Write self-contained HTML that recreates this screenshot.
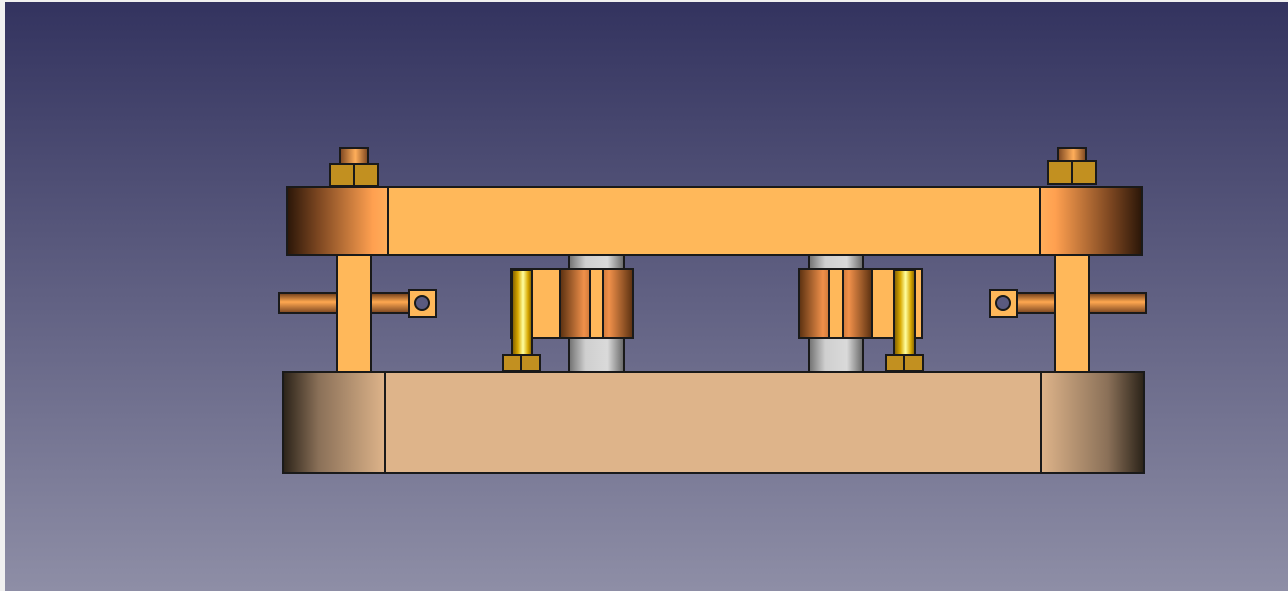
<!DOCTYPE html>
<html><head><meta charset="utf-8"><style>
html,body{margin:0;padding:0;width:1288px;height:591px;overflow:hidden;background:#f0f0f0}
svg{display:block}
</style></head><body>
<svg width="1288" height="591" viewBox="0 0 1288 591">
<defs>
<linearGradient id="bg" x1="0" y1="0" x2="0" y2="1"><stop offset="0" stop-color="#33335f"/><stop offset="1" stop-color="#8e8ea6"/></linearGradient>
<linearGradient id="cuL" x1="0" y1="0" x2="1" y2="0"><stop offset="0" stop-color="#2a1608"/><stop offset="0.3" stop-color="#7a4520"/><stop offset="0.85" stop-color="#ffa050"/><stop offset="1" stop-color="#ffae5a"/></linearGradient>
<linearGradient id="cuR" x1="1" y1="0" x2="0" y2="0"><stop offset="0" stop-color="#2a1608"/><stop offset="0.3" stop-color="#7a4520"/><stop offset="0.85" stop-color="#ffa050"/><stop offset="1" stop-color="#ffae5a"/></linearGradient>
<linearGradient id="bL" x1="0" y1="0" x2="1" y2="0"><stop offset="0" stop-color="#2a2218"/><stop offset="0.35" stop-color="#8a7058"/><stop offset="1" stop-color="#deb48a"/></linearGradient>
<linearGradient id="bR" x1="1" y1="0" x2="0" y2="0"><stop offset="0" stop-color="#2a2218"/><stop offset="0.35" stop-color="#8a7058"/><stop offset="1" stop-color="#deb48a"/></linearGradient>
<linearGradient id="rod" x1="0" y1="0" x2="0" y2="1"><stop offset="0" stop-color="#6a3a18"/><stop offset="0.45" stop-color="#ffa850"/><stop offset="1" stop-color="#7a4520"/></linearGradient>
<linearGradient id="shaft" x1="0" y1="0" x2="1" y2="0"><stop offset="0" stop-color="#7a4520"/><stop offset="0.55" stop-color="#ffae5a"/><stop offset="1" stop-color="#7a4520"/></linearGradient>
<linearGradient id="cu2" x1="0" y1="0" x2="1" y2="0"><stop offset="0" stop-color="#5a3010"/><stop offset="0.8" stop-color="#f0904a"/><stop offset="1" stop-color="#d07a3a"/></linearGradient>
<linearGradient id="cu3" x1="1" y1="0" x2="0" y2="0"><stop offset="0" stop-color="#5a3010"/><stop offset="0.8" stop-color="#f0904a"/><stop offset="1" stop-color="#d07a3a"/></linearGradient>
<linearGradient id="gray" x1="0" y1="0" x2="1" y2="0"><stop offset="0" stop-color="#707070"/><stop offset="0.3" stop-color="#cfcfcf"/><stop offset="0.7" stop-color="#dadada"/><stop offset="1" stop-color="#666"/></linearGradient>
<linearGradient id="pin" x1="0" y1="0" x2="1" y2="0"><stop offset="0" stop-color="#7a5800"/><stop offset="0.3" stop-color="#d8a800"/><stop offset="0.55" stop-color="#ffffa0"/><stop offset="0.8" stop-color="#d8a800"/><stop offset="1" stop-color="#7a5800"/></linearGradient>
</defs>
<rect x="5" y="2" width="1283" height="589" fill="url(#bg)"/>
<g stroke="#1a1a1a" stroke-width="2">
<rect x="569" y="255" width="55" height="117" fill="url(#gray)"/>
<rect x="809" y="255" width="54" height="117" fill="url(#gray)"/>
<rect x="340" y="148" width="28" height="17" fill="url(#shaft)"/>
<rect x="330" y="164" width="48" height="22" fill="#c29020"/>
<line x1="354" y1="164" x2="354" y2="186"/>
<rect x="1058" y="148" width="28" height="14" fill="url(#shaft)"/>
<rect x="1048" y="161" width="48" height="23" fill="#c29020"/>
<line x1="1072" y1="161" x2="1072" y2="184"/>
<rect x="337" y="255" width="34" height="117" fill="#ffb85a"/>
<rect x="1055" y="255" width="34" height="117" fill="#ffb85a"/>
<rect x="279" y="293" width="58" height="20" fill="url(#rod)"/>
<rect x="371" y="293" width="38" height="20" fill="url(#rod)"/>
<rect x="409" y="290" width="27" height="27" fill="#ffb85a"/>
<circle cx="422" cy="303" r="7" fill="#5a5a80"/>
<rect x="1017" y="293" width="38" height="20" fill="url(#rod)"/>
<rect x="1089" y="293" width="57" height="20" fill="url(#rod)"/>
<rect x="990" y="290" width="27" height="27" fill="#ffb85a"/>
<circle cx="1003" cy="303" r="7" fill="#5a5a80"/>
<rect x="511" y="269" width="49" height="69" fill="#ffb85a"/>
<rect x="560" y="269" width="30" height="69" fill="url(#cu2)"/>
<rect x="590" y="269" width="13" height="69" fill="#ffb85a"/>
<rect x="603" y="269" width="30" height="69" fill="url(#cu3)"/>
<rect x="512" y="270" width="20" height="85" fill="url(#pin)"/>
<rect x="503" y="355" width="37" height="16" fill="#c29020"/>
<line x1="521" y1="355" x2="521" y2="371"/>
<rect x="799" y="269" width="30" height="69" fill="url(#cu2)"/>
<rect x="829" y="269" width="14" height="69" fill="#ffb85a"/>
<rect x="843" y="269" width="29" height="69" fill="url(#cu3)"/>
<rect x="872" y="269" width="50" height="69" fill="#ffb85a"/>
<rect x="894" y="270" width="21" height="85" fill="url(#pin)"/>
<rect x="886" y="355" width="37" height="16" fill="#c29020"/>
<line x1="904" y1="355" x2="904" y2="371"/>
<rect x="287" y="187" width="855" height="68" fill="#ffb85a"/>
<rect x="287" y="187" width="101" height="68" fill="url(#cuL)"/>
<rect x="1040" y="187" width="102" height="68" fill="url(#cuR)"/>
<rect x="283" y="372" width="861" height="101" fill="#deb48a"/>
<rect x="283" y="372" width="102" height="101" fill="url(#bL)"/>
<rect x="1041" y="372" width="103" height="101" fill="url(#bR)"/>
</g>
</svg>
</body></html>
